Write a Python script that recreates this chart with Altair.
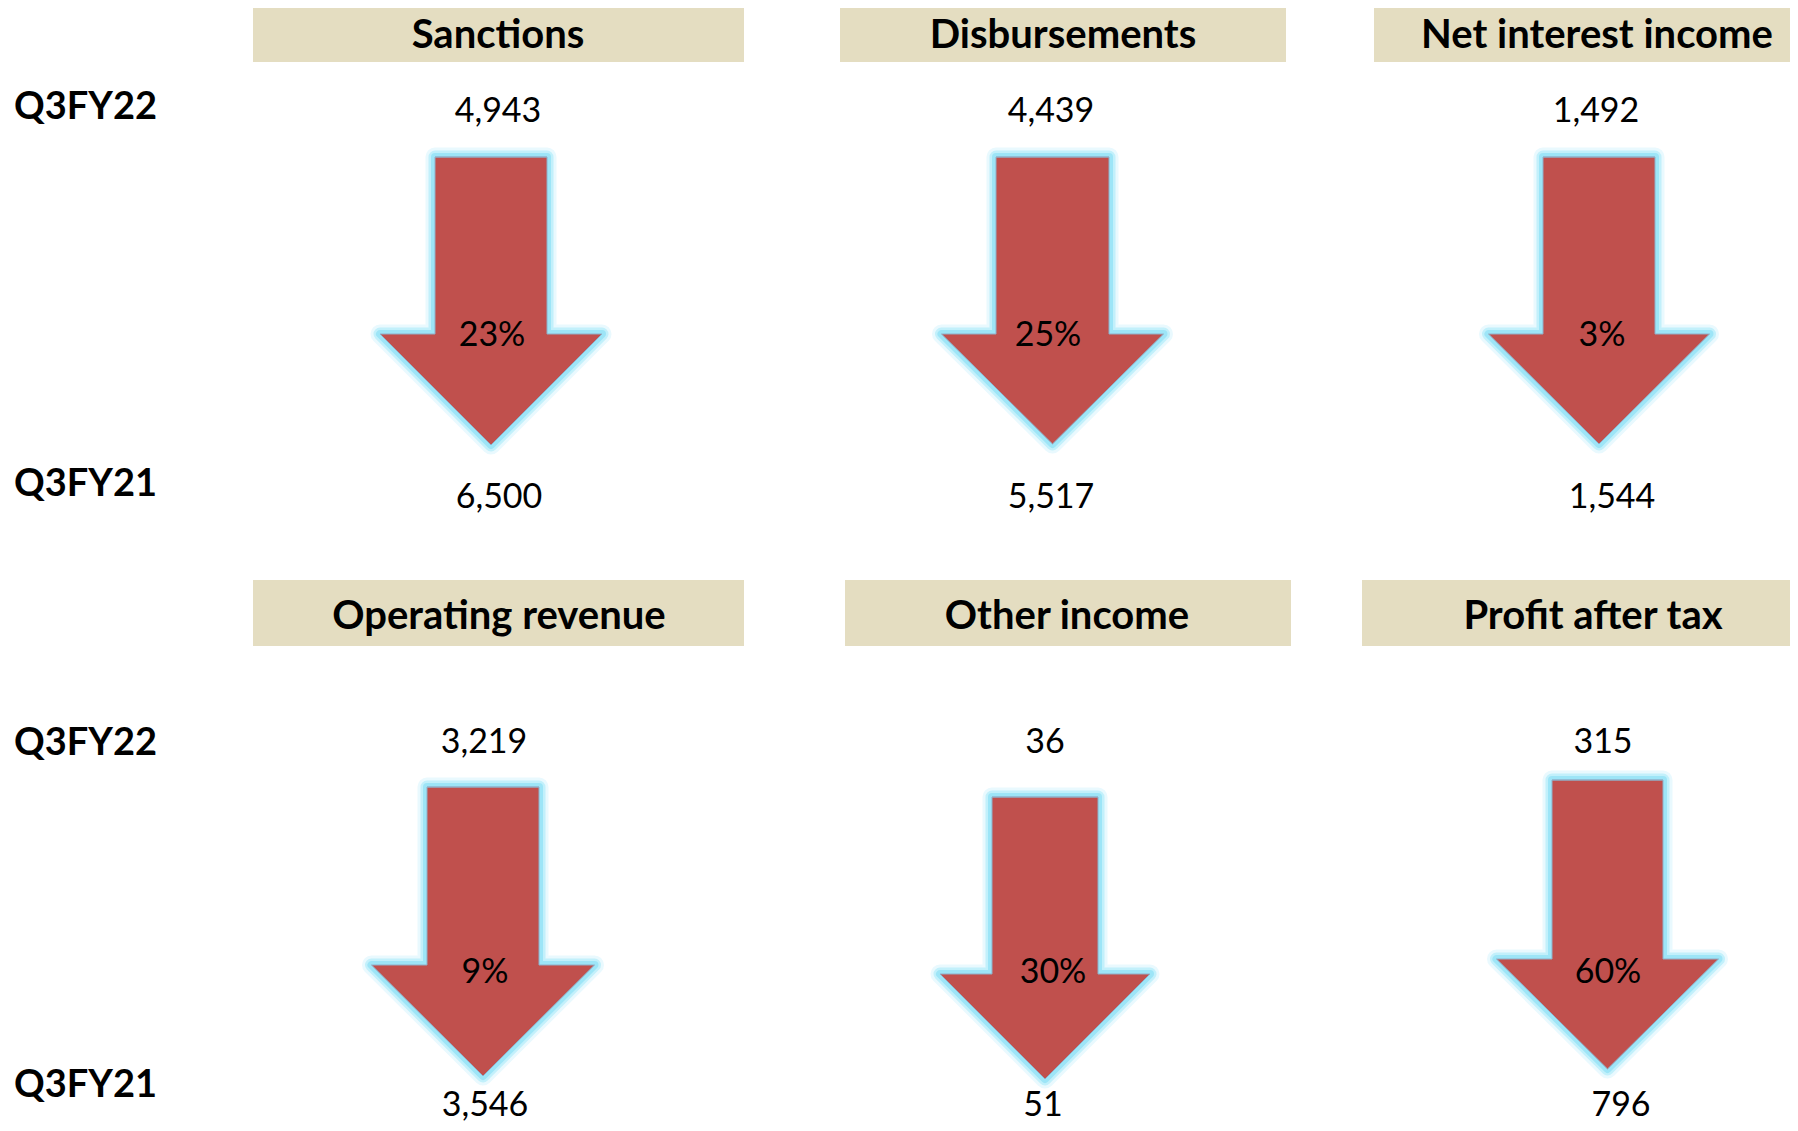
import altair as alt
import pandas as pd

# ---------------- data ----------------
metrics = ["Sanctions", "Disbursements", "Net interest income",
           "Operating revenue", "Other income", "Profit after tax"]
q3fy22 = [4943, 4439, 1492, 3219, 36, 315]
q3fy21 = [6500, 5517, 1544, 3546, 51, 796]
change_pct = [23, 25, 3, 9, 30, 60]
period_labels = ["Q3FY22", "Q3FY21"]

# ---------------- layout (page pixel coordinates) ----------------
W, H = 1782, 1115
OFF = 8
rows = [
    dict(box_y0=0, box_y1=62, title_b=48, lab_top_b=119, lab_bot_b=496,
         val_top_b=122, val_bot_b=508, pct_b=346),
    dict(box_y0=580, box_y1=646, title_b=629, lab_top_b=755, lab_bot_b=1097,
         val_top_b=753, val_bot_b=1116, pct_b=983),
]
panels = [
    dict(row=0, bx0=253, bx1=744, tx=498, vtx=498, vbx=499, px=492,
         cx=491, sw=56, hw=111, top=157, head=334, tip=445),
    dict(row=0, bx0=840, bx1=1286, tx=1063, vtx=1051, vbx=1051, px=1048,
         cx=1052.5, sw=56.5, hw=111, top=157, head=334, tip=444),
    dict(row=0, bx0=1374, bx1=1798, tx=1597, vtx=1596, vbx=1612, px=1602,
         cx=1599, sw=56, hw=110.5, top=157, head=334, tip=444),
    dict(row=1, bx0=253, bx1=744, tx=499, vtx=484, vbx=485, px=485,
         cx=483, sw=56, hw=111.5, top=787, head=965, tip=1076),
    dict(row=1, bx0=845, bx1=1291, tx=1067, vtx=1045, vbx=1043, px=1053,
         cx=1045, sw=53, hw=105, top=797, head=974, tip=1079),
    dict(row=1, bx0=1362, bx1=1798, tx=1593, vtx=1603, vbx=1621, px=1608,
         cx=1607.5, sw=55.5, hw=111, top=780, head=959, tip=1069),
]

# ---------------- tables ----------------
box_rows, title_rows, val_rows, pct_rows, arrow_rows = [], [], [], [], []
for m, v22, v21, pc, p in zip(metrics, q3fy22, q3fy21, change_pct, panels):
    r = rows[p["row"]]
    box_rows.append(dict(x=p["bx0"], x2=p["bx1"], y=r["box_y0"], y2=r["box_y1"]))
    title_rows.append(dict(x=p["tx"], y=r["title_b"], t=m))
    val_rows.append(dict(x=p["vtx"], y=r["val_top_b"], t=f"{v22:,}"))
    val_rows.append(dict(x=p["vbx"], y=r["val_bot_b"], t=f"{v21:,}"))
    pct_rows.append(dict(x=p["px"], y=r["pct_b"], t=f"{pc}%"))
    cx, sw, hw = p["cx"], p["sw"], p["hw"]
    pts = [(cx - sw, p["top"]), (cx + sw, p["top"]), (cx + sw, p["head"]),
           (cx + hw, p["head"]), (cx, p["tip"]), (cx - hw, p["head"]),
           (cx - sw, p["head"]), (cx - sw, p["top"]), (cx + sw, p["top"])]
    for i, (ax, ay) in enumerate(pts):
        arrow_rows.append(dict(x=ax, y=ay, i=i, m=m))

label_rows = []
for r in rows:
    label_rows.append(dict(x=14, y=r["lab_top_b"], t=period_labels[0]))
    label_rows.append(dict(x=14, y=r["lab_bot_b"], t=period_labels[1]))

xs = alt.Scale(domain=[OFF, OFF + W], nice=False, zero=False)
ys = alt.Scale(domain=[OFF, OFF + H], nice=False, zero=False, reverse=True)
X = alt.X("x:Q", scale=xs, axis=None)
Y = alt.Y("y:Q", scale=ys, axis=None)

boxes = alt.Chart(pd.DataFrame(box_rows)).mark_rect(color="#E4DDC1").encode(
    x=X, x2="x2:Q", y=Y, y2="y2:Q")

arrow_df = pd.DataFrame(arrow_rows)
def arrow_layer(**kw):
    return alt.Chart(arrow_df).mark_line(**kw).encode(
        x=X, y=Y, order=alt.Order("i:Q"), detail="m:N")

glow1 = arrow_layer(stroke="#c8f1fc", strokeWidth=19, strokeJoin="round", opacity=0.4)
glow2 = arrow_layer(stroke="#b0ecfa", strokeWidth=13, strokeJoin="round", opacity=0.7)
glow3 = arrow_layer(stroke="#9de5f7", strokeWidth=8, strokeJoin="round", opacity=1.0)
arrows = arrow_layer(fill="#C0504D", stroke="#8FAFC8", strokeWidth=1, strokeJoin="miter")

FONT = "Lato"
titles = alt.Chart(pd.DataFrame(title_rows)).mark_text(
    font=FONT, fontSize=40, fontWeight="bold", color="#000000",
    align="center", baseline="alphabetic").encode(x=X, y=Y, text="t:N")
values = alt.Chart(pd.DataFrame(val_rows)).mark_text(
    font=FONT, fontSize=34, color="#000000",
    align="center", baseline="alphabetic").encode(x=X, y=Y, text="t:N")
pcts = alt.Chart(pd.DataFrame(pct_rows)).mark_text(
    font=FONT, fontSize=34, color="#000000",
    align="center", baseline="alphabetic").encode(x=X, y=Y, text="t:N")
labels = alt.Chart(pd.DataFrame(label_rows)).mark_text(
    font=FONT, fontSize=38, fontWeight="bold", color="#000000",
    align="left", baseline="alphabetic").encode(x=X, y=Y, text="t:N")

chart = alt.layer(boxes, glow1, glow2, glow3, arrows, titles, values, pcts, labels).properties(
    width=W, height=H, padding=0, autosize=alt.AutoSizeParams(type="none"),
    background="#ffffff"
).configure_view(stroke=None)

chart.save("out.html", embed_options={"renderer": "svg", "actions": False})
